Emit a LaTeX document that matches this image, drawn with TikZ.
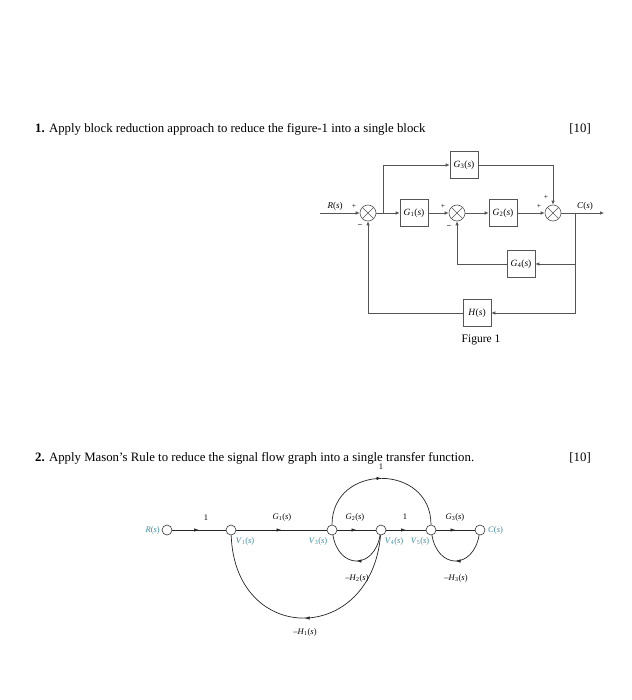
\documentclass[tikz,border=0pt]{standalone}
\usepackage{fontspec}
\setmainfont{Liberation Serif}
\usetikzlibrary{arrows.meta,decorations.markings}
\definecolor{tealc}{RGB}{60,140,160}
\definecolor{bdg}{RGB}{85,85,85}
\newcommand\gfun[2]{\textit{#1}\textsubscript{#2}(\textit{s})}
\newcommand\sfun[1]{\textit{#1}(\textit{s})}
\begin{document}
\begin{tikzpicture}[x=1pt,y=1pt,
  every node/.style={font=\fontsize{8.5}{9}\selectfont},
  hdr/.style={font=\fontsize{12.8}{14}\selectfont, inner sep=0pt},
  blk/.style={draw=bdg, line width=0.6pt, minimum width=28pt, minimum height=27pt, inner sep=0pt, font=\fontsize{9.5}{10}\selectfont},
  sumj/.style={circle, draw=bdg, line width=0.6pt, minimum size=16pt, inner sep=0pt,
    path picture={\draw[bdg,line width=0.6pt] (path picture bounding box.north west)--(path picture bounding box.south east) (path picture bounding box.north east)--(path picture bounding box.south west);}},
  bl/.style={draw=bdg, line width=0.7pt},
  barr/.style={bl, -{Latex[length=4pt,width=3.5pt]}},
  sgn/.style={font=\fontsize{7.5}{8}\selectfont, inner sep=0pt},
  sf/.style={circle, draw=black!80, line width=0.6pt, minimum size=10pt, inner sep=0pt, fill=white},
  se/.style={draw=black!85, line width=0.7pt, postaction={decorate},
    decoration={markings, mark=at position 0.5 with {\arrow{Latex[length=5pt,width=3.5pt]}}}},
  tl/.style={text=tealc, inner sep=0pt},
  el/.style={inner sep=0pt},
  bll/.style={inner sep=0pt, font=\fontsize{9}{10}\selectfont},
]
\useasboundingbox (0,0) rectangle (631,-700);
\fill[white] (0,0) rectangle (631,-700);

% ---------- headers ----------
\node[hdr, anchor=west] (h1) at (35,-129) {\textbf{1.} Apply block reduction approach to reduce the figure-1 into a single block};
\node[hdr, anchor=east] (m1) at (591,-129) {[10]};
\node[hdr, anchor=west] (h2) at (35,-458) {\textbf{2.} Apply Mason’s Rule to reduce the signal flow graph into a single transfer function.};
\node[hdr, anchor=east] (m2) at (591,-458) {[10]};

% ---------- block diagram ----------
\node[sumj] (s1) at (368,-213) {};
\node[blk] (g1) at (414,-213) {\gfun{G}{1}};
\node[sumj] (s2) at (457,-213) {};
\node[blk] (g2) at (503,-213) {\gfun{G}{2}};
\node[sumj] (s3) at (553,-213) {};
\node[blk] (g3) at (464,-165) {\gfun{G}{3}};
\node[blk] (g4) at (521,-264) {\gfun{G}{4}};
\node[blk] (h) at (477,-313) {\sfun{H}};

\coordinate (rin) at (320,-213);
\coordinate (cout) at (604,-213);
\coordinate (b1) at (383,-213);
\coordinate (b2) at (575,-213);
\coordinate (b3) at (575,-264);

\draw[barr] (rin) -- (s1);
\draw[barr] (s1) -- (g1);
\draw[barr] (b1) |- (g3);
\draw[barr] (g1) -- (s2);
\draw[barr] (s2) -- (g2);
\draw[barr] (g2) -- (s3);
\draw[barr] (g3) -| (s3);
\draw[barr] (s3) -- (cout);
\draw[bl] (b2) -- (b3);
\draw[barr] (b2) |- (h);
\draw[barr] (b3) -- (g4);
\draw[barr] (g4) -| (s2);
\draw[barr] (h) -| (s1);

\node[bll] (rl) at (335,-206) {\sfun{R}};
\node[bll] (cl) at (585,-206) {\sfun{C}};
\node[sgn] (p1) at (354,-206) {+};
\node[sgn] (n1) at (360,-225) {\textbf{–}};
\node[sgn] (p2) at (443,-206) {+};
\node[sgn] (n2) at (449,-226) {\textbf{–}};
\node[sgn] (p3) at (546,-197) {+};
\node[sgn] (p4) at (539,-206) {+};
\node[font=\fontsize{11.5}{13}\selectfont] (fig) at (481,-340) {Figure 1};

% ---------- signal flow graph ----------
\node[sf] (R) at (167,-530) {};
\node[sf] (V1) at (231,-530) {};
\node[sf] (V3) at (332,-530) {};
\node[sf] (V4) at (381,-530) {};
\node[sf] (V5) at (431,-530) {};
\node[sf] (C) at (480,-530) {};

\draw[se] (R) -- (V1);
\draw[se] (V1) -- (V3);
\draw[se] (V3) -- (V4);
\draw[se] (V4) -- (V5);
\draw[se] (V5) -- (C);
\draw[se] (V3) to[out=90,in=90,looseness=1.6] (V5);
\draw[se] (V4) to[out=-100,in=-80,looseness=1.9] (V3);
\draw[se] (C) to[out=-100,in=-80,looseness=1.9] (V5);
\draw[se] (V4) to[out=-95,in=-88,looseness=1.9] (V1);

\node[el] (l1) at (206,-518) {1};
\node[el] (lg1) at (282,-517) {\gfun{G}{1}};
\node[el] (lg2) at (355,-517) {\gfun{G}{2}};
\node[el] (l2) at (405,-517) {1};
\node[el] (lg3) at (455,-517) {\gfun{G}{3}};
\node[el] (l3) at (381,-467) {1};
\node[el] (lh2) at (357,-578) {–\gfun{H}{2}};
\node[el] (lh3) at (456,-578) {–\gfun{H}{3}};
\node[el] (lh1) at (305,-632) {–\gfun{H}{1}};

\node[tl, anchor=east] (tR) at (160,-530) {\sfun{R}};
\node[tl] (tV1) at (245,-541) {\gfun{V}{1}};
\node[tl] (tV3) at (318,-541) {\gfun{V}{3}};
\node[tl] (tV4) at (394,-541) {\gfun{V}{4}};
\node[tl] (tV5) at (420,-541) {\gfun{V}{5}};
\node[tl, anchor=west] (tC) at (488,-530) {\sfun{C}};
\end{tikzpicture}
\end{document}
